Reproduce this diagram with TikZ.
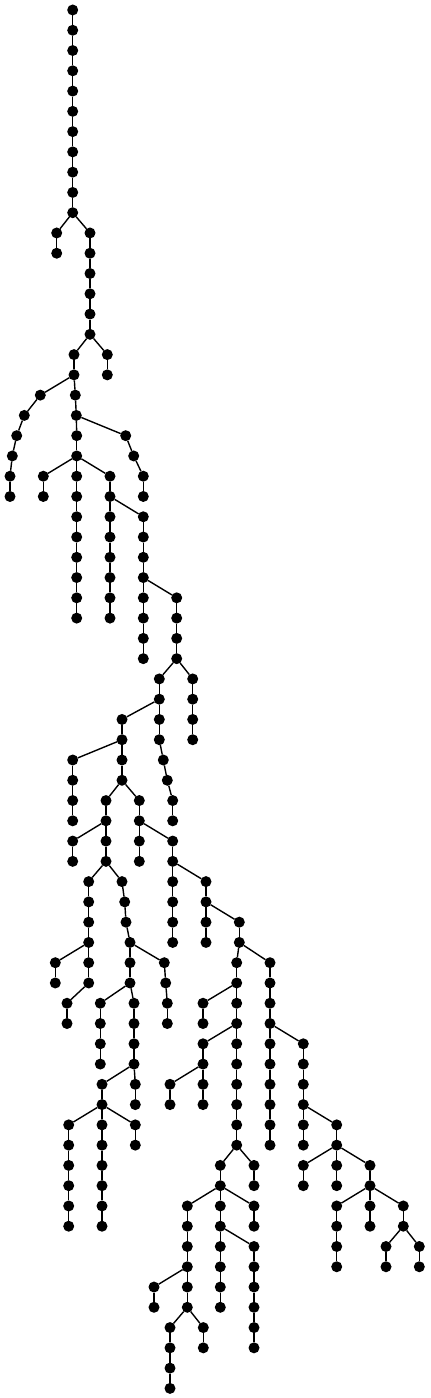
\documentclass[tikz,border=0pt]{standalone}
\usepackage{tikz}
\usepackage{tkz-berge}
\tikzstyle{dot}=[circle, fill=black, draw=none, minimum size=11pt, inner sep=0pt]
\tikzstyle{branch}=[line width=1.4pt, black]

\begin{document}
\begin{tikzpicture}[x=1pt,y=-20.27pt]
  \useasboundingbox (0,-0.493) rectangle (430,68.475);
  \tikzstyle{VertexStyle}=[dot]
  \SetVertexNoLabel
  \Vertex[x=72.7,y=0]{a0}
  \Vertex[x=72.7,y=1]{a1}
  \Vertex[x=72.7,y=2]{a2}
  \Vertex[x=72.7,y=3]{a3}
  \Vertex[x=72.7,y=4]{a4}
  \Vertex[x=72.7,y=5]{a5}
  \Vertex[x=72.7,y=6]{a6}
  \Vertex[x=72.7,y=7]{a7}
  \Vertex[x=72.7,y=8]{a8}
  \Vertex[x=72.7,y=9]{a9}
  \Vertex[x=72.7,y=10]{a10}
  \Vertex[x=56.7,y=11]{b11}
  \Vertex[x=56.7,y=12]{b12}
  \Vertex[x=90,y=11]{c11}
  \Vertex[x=90,y=12]{c12}
  \Vertex[x=90,y=13]{c13}
  \Vertex[x=90,y=14]{c14}
  \Vertex[x=90,y=15]{c15}
  \Vertex[x=90,y=16]{c16}
  \Vertex[x=74,y=17]{d17}
  \Vertex[x=74,y=18]{d18}
  \Vertex[x=75.3,y=19]{d19}
  \Vertex[x=76.3,y=20]{d20}
  \Vertex[x=76.7,y=21]{d21}
  \Vertex[x=76.7,y=22]{d22}
  \Vertex[x=76.7,y=23]{d23}
  \Vertex[x=76.7,y=24]{d24}
  \Vertex[x=76.7,y=25]{d25}
  \Vertex[x=76.7,y=26]{d26}
  \Vertex[x=76.7,y=27]{d27}
  \Vertex[x=76.7,y=28]{d28}
  \Vertex[x=76.7,y=29]{d29}
  \Vertex[x=76.7,y=30]{d30}
  \Vertex[x=107.3,y=17]{e17}
  \Vertex[x=107.3,y=18]{e18}
  \Vertex[x=40.3,y=19]{f19}
  \Vertex[x=24.3,y=20]{f20}
  \Vertex[x=16.7,y=21]{f21}
  \Vertex[x=12.3,y=22]{f22}
  \Vertex[x=10,y=23]{f23}
  \Vertex[x=10,y=24]{f24}
  \Vertex[x=125.7,y=21]{g21}
  \Vertex[x=133.7,y=22]{g22}
  \Vertex[x=143.3,y=23]{g23}
  \Vertex[x=143.3,y=24]{g24}
  \Vertex[x=43.3,y=23]{h23}
  \Vertex[x=43.3,y=24]{h24}
  \Vertex[x=110,y=23]{i23}
  \Vertex[x=110,y=24]{i24}
  \Vertex[x=110,y=25]{i25}
  \Vertex[x=110,y=26]{i26}
  \Vertex[x=110,y=27]{i27}
  \Vertex[x=110,y=28]{i28}
  \Vertex[x=110,y=29]{i29}
  \Vertex[x=110,y=30]{i30}
  \Vertex[x=143.3,y=25]{j25}
  \Vertex[x=143.3,y=26]{j26}
  \Vertex[x=143.3,y=27]{j27}
  \Vertex[x=143.3,y=28]{j28}
  \Vertex[x=143.3,y=29]{j29}
  \Vertex[x=143.3,y=30]{j30}
  \Vertex[x=143.3,y=31]{j31}
  \Vertex[x=143.3,y=32]{j32}
  \Vertex[x=176.7,y=29]{k29}
  \Vertex[x=176.7,y=30]{k30}
  \Vertex[x=176.7,y=31]{k31}
  \Vertex[x=176.7,y=32]{k32}
  \Vertex[x=159.3,y=33]{l33}
  \Vertex[x=159.3,y=34]{l34}
  \Vertex[x=159.3,y=35]{l35}
  \Vertex[x=159.3,y=36]{l36}
  \Vertex[x=163.3,y=37]{l37}
  \Vertex[x=167.3,y=38]{l38}
  \Vertex[x=172.7,y=39]{l39}
  \Vertex[x=172.7,y=40]{l40}
  \Vertex[x=192.7,y=33]{m33}
  \Vertex[x=192.7,y=34]{m34}
  \Vertex[x=192.7,y=35]{m35}
  \Vertex[x=192.7,y=36]{m36}
  \Vertex[x=122,y=35]{n35}
  \Vertex[x=122,y=36]{n36}
  \Vertex[x=122,y=37]{n37}
  \Vertex[x=122,y=38]{n38}
  \Vertex[x=72.7,y=37]{o37}
  \Vertex[x=72.7,y=38]{o38}
  \Vertex[x=72.7,y=39]{o39}
  \Vertex[x=72.7,y=40]{o40}
  \Vertex[x=106,y=39]{p39}
  \Vertex[x=106,y=40]{p40}
  \Vertex[x=106,y=41]{p41}
  \Vertex[x=106,y=42]{p42}
  \Vertex[x=139.3,y=39]{q39}
  \Vertex[x=139.3,y=40]{q40}
  \Vertex[x=139.3,y=41]{q41}
  \Vertex[x=139.3,y=42]{q42}
  \Vertex[x=72.7,y=41]{r41}
  \Vertex[x=72.7,y=42]{r42}
  \Vertex[x=172.7,y=41]{s41}
  \Vertex[x=172.7,y=42]{s42}
  \Vertex[x=172.7,y=43]{s43}
  \Vertex[x=172.7,y=44]{s44}
  \Vertex[x=172.7,y=45]{s45}
  \Vertex[x=172.7,y=46]{s46}
  \Vertex[x=88.7,y=43]{t43}
  \Vertex[x=88.7,y=44]{t44}
  \Vertex[x=88.7,y=45]{t45}
  \Vertex[x=88.7,y=46]{t46}
  \Vertex[x=88.7,y=47]{t47}
  \Vertex[x=88.7,y=48]{t48}
  \Vertex[x=67,y=49]{t49}
  \Vertex[x=67,y=50]{t50}
  \Vertex[x=122,y=43]{u43}
  \Vertex[x=124.7,y=44]{u44}
  \Vertex[x=126,y=45]{u45}
  \Vertex[x=130,y=46]{u46}
  \Vertex[x=130,y=47]{u47}
  \Vertex[x=130,y=48]{u48}
  \Vertex[x=55.3,y=47]{v47}
  \Vertex[x=55.3,y=48]{v48}
  \Vertex[x=164.3,y=47]{w47}
  \Vertex[x=165.7,y=48]{w48}
  \Vertex[x=167.3,y=49]{w49}
  \Vertex[x=167.3,y=50]{w50}
  \Vertex[x=100.3,y=49]{x49}
  \Vertex[x=100.3,y=50]{x50}
  \Vertex[x=100.3,y=51]{x51}
  \Vertex[x=100.3,y=52]{x52}
  \Vertex[x=134,y=49]{y49}
  \Vertex[x=134,y=50]{y50}
  \Vertex[x=134,y=51]{y51}
  \Vertex[x=134,y=52]{y52}
  \Vertex[x=102,y=53]{z53}
  \Vertex[x=102,y=54]{z54}
  \Vertex[x=102,y=55]{z55}
  \Vertex[x=102,y=56]{z56}
  \Vertex[x=102,y=57]{z57}
  \Vertex[x=102,y=58]{z58}
  \Vertex[x=102,y=59]{z59}
  \Vertex[x=102,y=60]{z60}
  \Vertex[x=135.3,y=53]{A53}
  \Vertex[x=135.3,y=54]{A54}
  \Vertex[x=68.7,y=55]{B55}
  \Vertex[x=68.7,y=56]{B56}
  \Vertex[x=68.7,y=57]{B57}
  \Vertex[x=68.7,y=58]{B58}
  \Vertex[x=68.7,y=59]{B59}
  \Vertex[x=68.7,y=60]{B60}
  \Vertex[x=135.3,y=55]{C55}
  \Vertex[x=135.3,y=56]{C56}
  \Vertex[x=206,y=43]{D43}
  \Vertex[x=206,y=44]{D44}
  \Vertex[x=206,y=45]{D45}
  \Vertex[x=206,y=46]{D46}
  \Vertex[x=239.3,y=45]{E45}
  \Vertex[x=239.3,y=46]{E46}
  \Vertex[x=236.7,y=47]{F47}
  \Vertex[x=236.7,y=48]{F48}
  \Vertex[x=236.7,y=49]{F49}
  \Vertex[x=236.7,y=50]{F50}
  \Vertex[x=236.7,y=51]{F51}
  \Vertex[x=236.7,y=52]{F52}
  \Vertex[x=236.7,y=53]{F53}
  \Vertex[x=236.7,y=54]{F54}
  \Vertex[x=236.7,y=55]{F55}
  \Vertex[x=236.7,y=56]{F56}
  \Vertex[x=270,y=47]{G47}
  \Vertex[x=270,y=48]{G48}
  \Vertex[x=270,y=49]{G49}
  \Vertex[x=270,y=50]{G50}
  \Vertex[x=270,y=51]{G51}
  \Vertex[x=270,y=52]{G52}
  \Vertex[x=270,y=53]{G53}
  \Vertex[x=270,y=54]{G54}
  \Vertex[x=270,y=55]{G55}
  \Vertex[x=270,y=56]{G56}
  \Vertex[x=203,y=49]{H49}
  \Vertex[x=203,y=50]{H50}
  \Vertex[x=203,y=51]{I51}
  \Vertex[x=203,y=52]{I52}
  \Vertex[x=203,y=53]{I53}
  \Vertex[x=203,y=54]{I54}
  \Vertex[x=170,y=53]{J53}
  \Vertex[x=170,y=54]{J54}
  \Vertex[x=220.3,y=57]{K57}
  \Vertex[x=220.3,y=58]{K58}
  \Vertex[x=220.3,y=59]{K59}
  \Vertex[x=220.3,y=60]{K60}
  \Vertex[x=220.3,y=61]{K61}
  \Vertex[x=220.3,y=62]{K62}
  \Vertex[x=220.3,y=63]{K63}
  \Vertex[x=220.3,y=64]{K64}
  \Vertex[x=254,y=57]{L57}
  \Vertex[x=254,y=58]{L58}
  \Vertex[x=187.3,y=59]{M59}
  \Vertex[x=187.3,y=60]{M60}
  \Vertex[x=187.3,y=61]{M61}
  \Vertex[x=187.3,y=62]{M62}
  \Vertex[x=187.3,y=63]{M63}
  \Vertex[x=187.3,y=64]{M64}
  \Vertex[x=170,y=65]{N65}
  \Vertex[x=170,y=66]{N66}
  \Vertex[x=170,y=67]{N67}
  \Vertex[x=170,y=68]{N68}
  \Vertex[x=203.3,y=65]{O65}
  \Vertex[x=203.3,y=66]{O66}
  \Vertex[x=154,y=63]{P63}
  \Vertex[x=154,y=64]{P64}
  \Vertex[x=254,y=59]{Q59}
  \Vertex[x=254,y=60]{Q60}
  \Vertex[x=254,y=61]{R61}
  \Vertex[x=254,y=62]{R62}
  \Vertex[x=254,y=63]{R63}
  \Vertex[x=254,y=64]{R64}
  \Vertex[x=254,y=65]{R65}
  \Vertex[x=254,y=66]{R66}
  \Vertex[x=303.3,y=51]{S51}
  \Vertex[x=303.3,y=52]{S52}
  \Vertex[x=303.3,y=53]{S53}
  \Vertex[x=303.3,y=54]{S54}
  \Vertex[x=303.3,y=55]{S55}
  \Vertex[x=303.3,y=56]{S56}
  \Vertex[x=336.7,y=55]{T55}
  \Vertex[x=336.7,y=56]{T56}
  \Vertex[x=303.3,y=57]{U57}
  \Vertex[x=303.3,y=58]{U58}
  \Vertex[x=336.7,y=57]{V57}
  \Vertex[x=336.7,y=58]{V58}
  \Vertex[x=370,y=57]{W57}
  \Vertex[x=370,y=58]{W58}
  \Vertex[x=370,y=59]{W59}
  \Vertex[x=370,y=60]{W60}
  \Vertex[x=336.7,y=59]{X59}
  \Vertex[x=336.7,y=60]{X60}
  \Vertex[x=336.7,y=61]{X61}
  \Vertex[x=336.7,y=62]{X62}
  \Vertex[x=403.3,y=59]{Y59}
  \Vertex[x=403.3,y=60]{Y60}
  \Vertex[x=386,y=61]{Z61}
  \Vertex[x=386,y=62]{Z62}
  \Vertex[x=419.3,y=61]{AA61}
  \Vertex[x=419.3,y=62]{AA62}
  \tikzstyle{EdgeStyle}=[branch]
    \Edge(a0)(a1)
    \Edge(a1)(a2)
    \Edge(a2)(a3)
    \Edge(a3)(a4)
    \Edge(a4)(a5)
    \Edge(a5)(a6)
    \Edge(a6)(a7)
    \Edge(a7)(a8)
    \Edge(a8)(a9)
    \Edge(a9)(a10)
    \Edge(a10)(b11)
    \Edge(b11)(b12)
    \Edge(a10)(c11)
    \Edge(c11)(c12)
    \Edge(c12)(c13)
    \Edge(c13)(c14)
    \Edge(c14)(c15)
    \Edge(c15)(c16)
    \Edge(c16)(d17)
    \Edge(d17)(d18)
    \Edge(d18)(d19)
    \Edge(d19)(d20)
    \Edge(d20)(d21)
    \Edge(d21)(d22)
    \Edge(d22)(d23)
    \Edge(d23)(d24)
    \Edge(d24)(d25)
    \Edge(d25)(d26)
    \Edge(d26)(d27)
    \Edge(d27)(d28)
    \Edge(d28)(d29)
    \Edge(d29)(d30)
    \Edge(c16)(e17)
    \Edge(e17)(e18)
    \Edge(d18)(f19)
    \Edge(f19)(f20)
    \Edge(f20)(f21)
    \Edge(f21)(f22)
    \Edge(f22)(f23)
    \Edge(f23)(f24)
    \Edge(d20)(g21)
    \Edge(g21)(g22)
    \Edge(g22)(g23)
    \Edge(g23)(g24)
    \Edge(d22)(h23)
    \Edge(h23)(h24)
    \Edge(d22)(i23)
    \Edge(i23)(i24)
    \Edge(i24)(i25)
    \Edge(i25)(i26)
    \Edge(i26)(i27)
    \Edge(i27)(i28)
    \Edge(i28)(i29)
    \Edge(i29)(i30)
    \Edge(i24)(j25)
    \Edge(j25)(j26)
    \Edge(j26)(j27)
    \Edge(j27)(j28)
    \Edge(j28)(j29)
    \Edge(j29)(j30)
    \Edge(j30)(j31)
    \Edge(j31)(j32)
    \Edge(j28)(k29)
    \Edge(k29)(k30)
    \Edge(k30)(k31)
    \Edge(k31)(k32)
    \Edge(k32)(l33)
    \Edge(l33)(l34)
    \Edge(l34)(l35)
    \Edge(l35)(l36)
    \Edge(l36)(l37)
    \Edge(l37)(l38)
    \Edge(l38)(l39)
    \Edge(l39)(l40)
    \Edge(k32)(m33)
    \Edge(m33)(m34)
    \Edge(m34)(m35)
    \Edge(m35)(m36)
    \Edge(l34)(n35)
    \Edge(n35)(n36)
    \Edge(n36)(n37)
    \Edge(n37)(n38)
    \Edge(n36)(o37)
    \Edge(o37)(o38)
    \Edge(o38)(o39)
    \Edge(o39)(o40)
    \Edge(n38)(p39)
    \Edge(p39)(p40)
    \Edge(p40)(p41)
    \Edge(p41)(p42)
    \Edge(n38)(q39)
    \Edge(q39)(q40)
    \Edge(q40)(q41)
    \Edge(q41)(q42)
    \Edge(p40)(r41)
    \Edge(r41)(r42)
    \Edge(q40)(s41)
    \Edge(s41)(s42)
    \Edge(s42)(s43)
    \Edge(s43)(s44)
    \Edge(s44)(s45)
    \Edge(s45)(s46)
    \Edge(p42)(t43)
    \Edge(t43)(t44)
    \Edge(t44)(t45)
    \Edge(t45)(t46)
    \Edge(t46)(t47)
    \Edge(t47)(t48)
    \Edge(t48)(t49)
    \Edge(t49)(t50)
    \Edge(p42)(u43)
    \Edge(u43)(u44)
    \Edge(u44)(u45)
    \Edge(u45)(u46)
    \Edge(u46)(u47)
    \Edge(u47)(u48)
    \Edge(t46)(v47)
    \Edge(v47)(v48)
    \Edge(u46)(w47)
    \Edge(w47)(w48)
    \Edge(w48)(w49)
    \Edge(w49)(w50)
    \Edge(u48)(x49)
    \Edge(x49)(x50)
    \Edge(x50)(x51)
    \Edge(x51)(x52)
    \Edge(u48)(y49)
    \Edge(y49)(y50)
    \Edge(y50)(y51)
    \Edge(y51)(y52)
    \Edge(y52)(z53)
    \Edge(z53)(z54)
    \Edge(z54)(z55)
    \Edge(z55)(z56)
    \Edge(z56)(z57)
    \Edge(z57)(z58)
    \Edge(z58)(z59)
    \Edge(z59)(z60)
    \Edge(y52)(A53)
    \Edge(A53)(A54)
    \Edge(z54)(B55)
    \Edge(B55)(B56)
    \Edge(B56)(B57)
    \Edge(B57)(B58)
    \Edge(B58)(B59)
    \Edge(B59)(B60)
    \Edge(z54)(C55)
    \Edge(C55)(C56)
    \Edge(s42)(D43)
    \Edge(D43)(D44)
    \Edge(D44)(D45)
    \Edge(D45)(D46)
    \Edge(D44)(E45)
    \Edge(E45)(E46)
    \Edge(E46)(F47)
    \Edge(F47)(F48)
    \Edge(F48)(F49)
    \Edge(F49)(F50)
    \Edge(F50)(F51)
    \Edge(F51)(F52)
    \Edge(F52)(F53)
    \Edge(F53)(F54)
    \Edge(F54)(F55)
    \Edge(F55)(F56)
    \Edge(E46)(G47)
    \Edge(G47)(G48)
    \Edge(G48)(G49)
    \Edge(G49)(G50)
    \Edge(G50)(G51)
    \Edge(G51)(G52)
    \Edge(G52)(G53)
    \Edge(G53)(G54)
    \Edge(G54)(G55)
    \Edge(G55)(G56)
    \Edge(F48)(H49)
    \Edge(H49)(H50)
    \Edge(F50)(I51)
    \Edge(I51)(I52)
    \Edge(I52)(I53)
    \Edge(I53)(I54)
    \Edge(I52)(J53)
    \Edge(J53)(J54)
    \Edge(F56)(K57)
    \Edge(K57)(K58)
    \Edge(K58)(K59)
    \Edge(K59)(K60)
    \Edge(K60)(K61)
    \Edge(K61)(K62)
    \Edge(K62)(K63)
    \Edge(K63)(K64)
    \Edge(F56)(L57)
    \Edge(L57)(L58)
    \Edge(K58)(M59)
    \Edge(M59)(M60)
    \Edge(M60)(M61)
    \Edge(M61)(M62)
    \Edge(M62)(M63)
    \Edge(M63)(M64)
    \Edge(M64)(N65)
    \Edge(N65)(N66)
    \Edge(N66)(N67)
    \Edge(N67)(N68)
    \Edge(M64)(O65)
    \Edge(O65)(O66)
    \Edge(M62)(P63)
    \Edge(P63)(P64)
    \Edge(K58)(Q59)
    \Edge(Q59)(Q60)
    \Edge(K60)(R61)
    \Edge(R61)(R62)
    \Edge(R62)(R63)
    \Edge(R63)(R64)
    \Edge(R64)(R65)
    \Edge(R65)(R66)
    \Edge(G50)(S51)
    \Edge(S51)(S52)
    \Edge(S52)(S53)
    \Edge(S53)(S54)
    \Edge(S54)(S55)
    \Edge(S55)(S56)
    \Edge(S54)(T55)
    \Edge(T55)(T56)
    \Edge(T56)(U57)
    \Edge(U57)(U58)
    \Edge(T56)(V57)
    \Edge(V57)(V58)
    \Edge(T56)(W57)
    \Edge(W57)(W58)
    \Edge(W58)(W59)
    \Edge(W59)(W60)
    \Edge(W58)(X59)
    \Edge(X59)(X60)
    \Edge(X60)(X61)
    \Edge(X61)(X62)
    \Edge(W58)(Y59)
    \Edge(Y59)(Y60)
    \Edge(Y60)(Z61)
    \Edge(Z61)(Z62)
    \Edge(Y60)(AA61)
    \Edge(AA61)(AA62)
    \end{tikzpicture}
\end{document}
